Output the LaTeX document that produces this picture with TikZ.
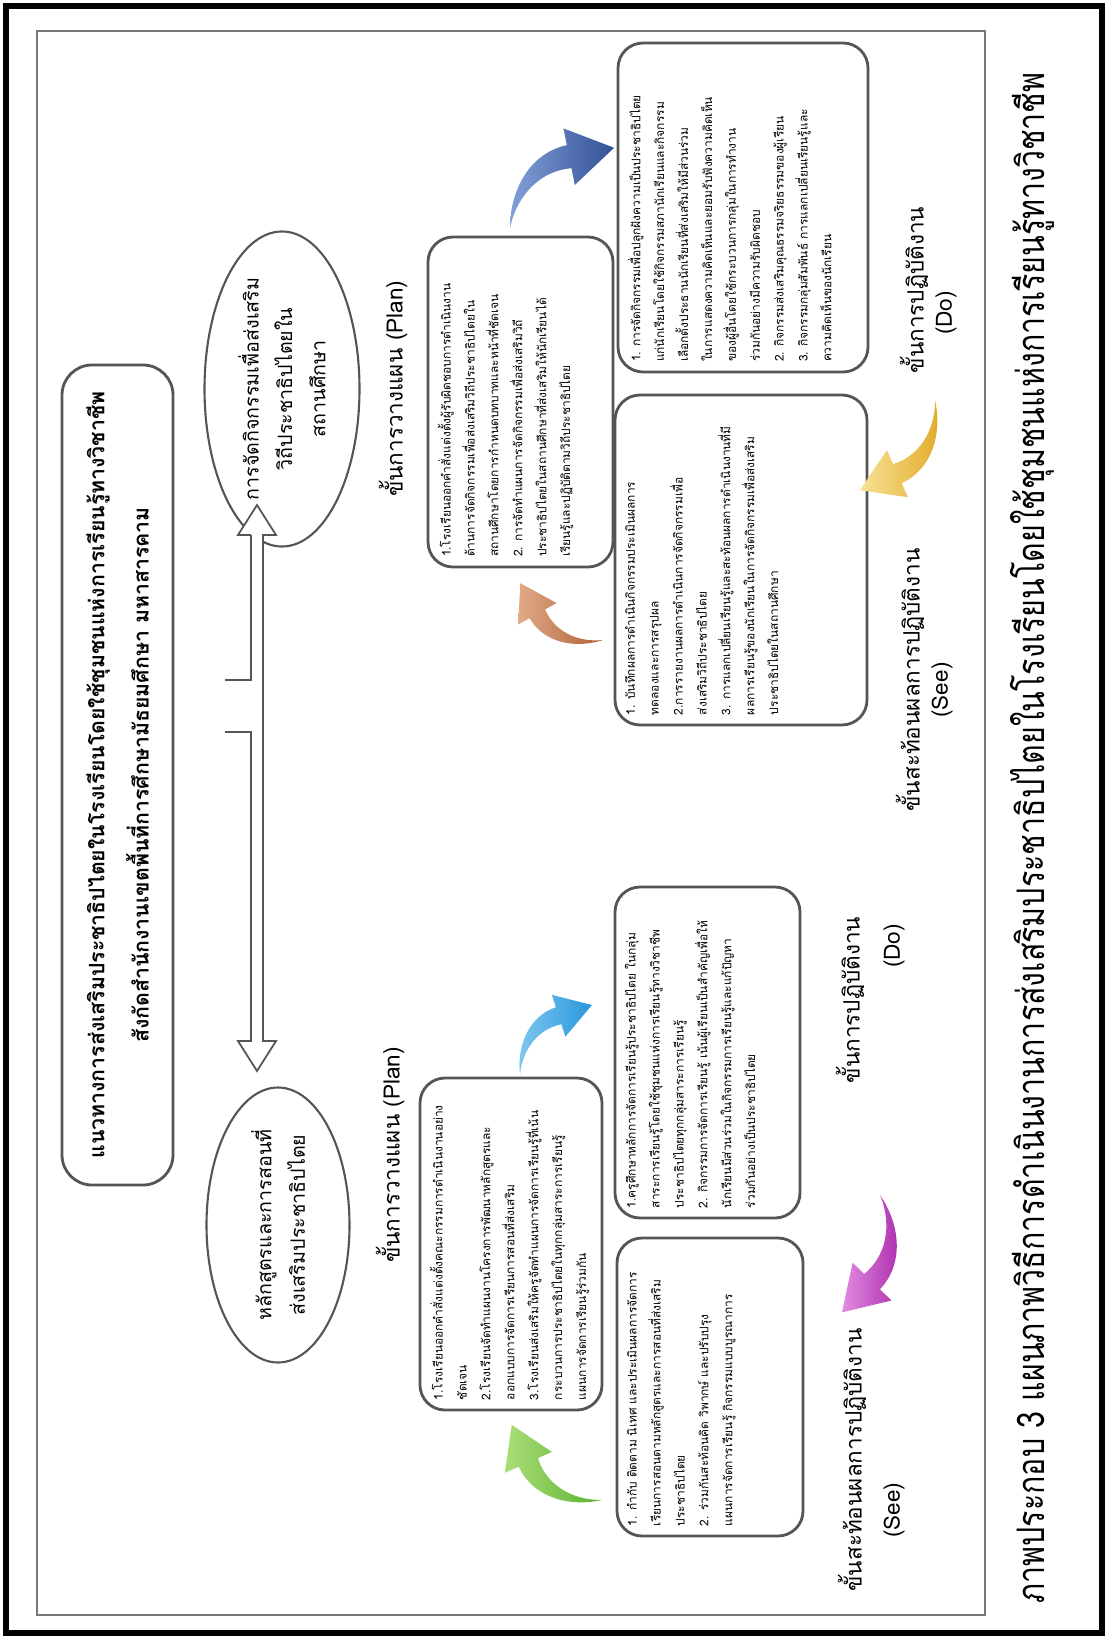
\documentclass[tikz,border=0pt]{standalone}
\usepackage{fontspec}
\setmainfont{Loma}[Script=Thai]
\newfontfamily\capfont[Script=Thai,FakeStretch=0.8]{Loma}
\usetikzlibrary{shapes.geometric}

\definecolor{boxline}{RGB}{85,85,85}
\definecolor{framegray}{RGB}{120,120,120}
\definecolor{arrgreen}{RGB}{92,178,48}
\definecolor{arrgreenL}{RGB}{170,222,120}
\definecolor{arrsky}{RGB}{40,150,220}
\definecolor{arrskyL}{RGB}{130,200,240}
\definecolor{arrmag}{RGB}{170,40,170}
\definecolor{arrmagL}{RGB}{225,140,225}
\definecolor{arrbrown}{RGB}{175,95,55}
\definecolor{arrbrownL}{RGB}{225,170,135}
\definecolor{arrnavy}{RGB}{50,80,150}
\definecolor{arrnavyL}{RGB}{130,160,215}
\definecolor{arrgold}{RGB}{225,170,40}
\definecolor{arrgoldL}{RGB}{248,225,150}

\newcommand{\smalltxt}{\fontsize{3.4}{6.8}\selectfont}
\newcommand{\boxtext}[3]{\begin{minipage}[c][#2][t]{#1}\raggedright #3\end{minipage}}

\begin{document}
\begin{tikzpicture}[x=0.1mm,y=-0.1mm,
    stepbox/.style={draw=boxline,line width=0.8pt,rounded corners=2.5mm,rotate=90,inner sep=1mm,font=\smalltxt},
    oval/.style={draw=boxline,line width=0.6pt,ellipse,rotate=90,align=center,inner sep=0pt,font=\fontsize{5.6}{9.5}\selectfont},
    stage/.style={rotate=90,align=center,font=\fontsize{6.4}{9}\selectfont},
    swoosh/.pic={
      \path[pic actions] (0,0) .. controls (20,-22) and (50,-32) .. (74.6,-17.7)
        -- (81.3,-28.9) -- (100,8) -- (58.7,8.9) -- (65.4,-2.3)
        .. controls (48,-16) and (22,-16) .. (0,0) -- cycle;
    }]
    \useasboundingbox (0,0) rectangle (1108,1639);

    % frames
    \draw[line width=0.6mm] (6,6) rectangle (1102,1633);
    \draw[framegray,line width=0.3pt] (37,31) rectangle (985,1615);

    % title
    \node[draw=boxline,line width=0.8pt,rounded corners=3mm,rotate=90,inner sep=1mm,minimum width=82mm,minimum height=11.1mm,align=center,font=\fontsize{6.05}{12.6}\selectfont\bfseries] (title) at (117.5,775)
      {แนวทางการส่งเสริมประชาธิปไตยในโรงเรียนโดยใช้ชุมชนแห่งการเรียนรู้ทางวิชาชีพ\\
       สังกัดสำนักงานเขตพื้นที่การศึกษามัธยมศึกษา มหาสารคาม};

    % two main parts
    \node[oval,minimum width=24.8mm,minimum height=15.5mm] (ovR) at (282,389)
      {การจัดกิจกรรมเพื่อส่งเสริม\\วิถีประชาธิปไตยใน\\สถานศึกษา};
    \node[oval,minimum width=27.5mm,minimum height=14.3mm] (ovL) at (278,1225)
      {หลักสูตรและการสอนที่\\ส่งเสริมประชาธิปไตย};

    % hollow double arrow
    \draw[boxline,line width=0.5pt,fill=white] (251,535) -- (251,680) -- (225,680)
      (225,732) -- (251,732) -- (251,1041) -- (238,1041) -- (257,1071) -- (276,1041)
      -- (263,1041) -- (263,535) -- (276,535) -- (257,505) -- (238,535) -- (251,535);

    % stage labels
    \node[stage] (lpR) at (393,389) {ขั้นการวางแผน (Plan)};
    \node[stage] (lpL) at (390,1155) {ขั้นการวางแผน (Plan)};
    \node[stage] (ldR) at (914,290) {ขั้นการปฏิบัติงาน};
    \node[stage] (ldRe) at (946,313) {(Do)};
    \node[stage] (lsR) at (910,680) {ขั้นสะท้อนผลการปฏิบัติงาน};
    \node[stage] (lsRe) at (942,690) {(See)};
    \node[stage] (ldL) at (850,1000) {ขั้นการปฏิบัติงาน};
    \node[stage] (ldLe) at (894,946) {(Do)};
    \node[stage] (lsL) at (852,1460) {ขั้นสะท้อนผลการปฏิบัติงาน};
    \node[stage] (lsLe) at (894,1510) {(See)};

    % boxes, right side (activities)
    \node[stepbox] (planR) at (520.5,402) {\boxtext{31mm}{16.5mm}{%
      1.โรงเรียนออกคำสั่งแต่งตั้งผู้รับผิดชอบการดำเนินงาน\\
      ด้านการจัดกิจกรรมเพื่อส่งเสริมวิถีประชาธิปไตยใน\\
      สถานศึกษาโดยการกำหนดบทบาทและหน้าที่ชัดเจน\\
      2. การจัดทำแผนการจัดกิจกรรมเพื่อส่งเสริมวิถี\\
      ประชาธิปไตยในสถานศึกษาที่ส่งเสริมให้นักเรียนได้\\
      เรียนรู้และปฏิบัติตามวิถีประชาธิปไตย}};
    \node[stepbox] (doR) at (743,207.5) {\boxtext{30.9mm}{23mm}{%
      1. การจัดกิจกรรมเพื่อปลูกฝังความเป็นประชาธิปไตย\\
      แก่นักเรียนโดยใช้กิจกรรมสภานักเรียนและกิจกรรม\\
      เลือกตั้งประธานนักเรียนที่ส่งเสริมให้มีส่วนร่วม\\
      ในการแสดงความคิดเห็นและยอมรับฟังความคิดเห็น\\
      ของผู้อื่นโดยใช้กระบวนการกลุ่มในการทำงาน\\
      ร่วมกันอย่างมีความรับผิดชอบ\\
      2. กิจกรรมส่งเสริมคุณธรรมจริยธรรมของผู้เรียน\\
      3. กิจกรรมกลุ่มสัมพันธ์ การแลกเปลี่ยนเรียนรู้และ\\
      ความคิดเห็นของนักเรียน}};
    \node[stepbox] (seeR) at (741,560) {\boxtext{31mm}{23.2mm}{%
      1. บันทึกผลการดำเนินกิจกรรมประเมินผลการ\\
      ทดลองและการสรุปผล\\
      2.การรายงานผลการดำเนินการจัดกิจกรรมเพื่อ\\
      ส่งเสริมวิถีประชาธิปไตย\\
      3. การแลกเปลี่ยนเรียนรู้และสะท้อนผลการดำเนินงานที่มี\\
      ผลการเรียนรู้ของนักเรียนในการจัดกิจกรรมเพื่อส่งเสริม\\
      ประชาธิปไตยในสถานศึกษา}};

    % boxes, left side (curriculum)
    \node[stepbox] (planL) at (511,1244) {\boxtext{31.2mm}{16.2mm}{%
      1.โรงเรียนออกคำสั่งแต่งตั้งคณะกรรมการดำเนินงานอย่าง\\
      ชัดเจน\\
      2.โรงเรียนจัดทำแผนงานโครงการพัฒนาหลักสูตรและ\\
      ออกแบบการจัดการเรียนการสอนที่ส่งเสริม\\
      3.โรงเรียนส่งเสริมให้ครูจัดทำแผนการจัดการเรียนรู้ที่เน้น\\
      กระบวนการประชาธิปไตยในทุกกลุ่มสาระการเรียนรู้\\
      แผนการจัดการเรียนรู้ร่วมกัน}};
    \node[stepbox] (doL) at (707.5,1052.5) {\boxtext{31.1mm}{16.5mm}{%
      1.ครูศึกษาหลักการจัดการเรียนรู้ประชาธิปไตย ในกลุ่ม\\
      สาระการเรียนรู้โดยใช้ชุมชนแห่งการเรียนรู้ทางวิชาชีพ\\
      ประชาธิปไตยทุกกลุ่มสาระการเรียนรู้\\
      2. กิจกรรมการจัดการเรียนรู้ เน้นผู้เรียนเป็นสำคัญเพื่อให้\\
      นักเรียนมีส่วนร่วมในกิจกรรมการเรียนรู้และแก้ปัญหา\\
      ร่วมกันอย่างเป็นประชาธิปไตย}};
    \node[stepbox] (seeL) at (710,1387) {\boxtext{27.8mm}{16.6mm}{%
      1. กำกับ ติดตาม นิเทศ และประเมินผลการจัดการ\\
      เรียนการสอนตามหลักสูตรและการสอนที่ส่งเสริม\\
      ประชาธิปไตย\\
      2. ร่วมกันสะท้อนคิด วิพากษ์ และปรับปรุง\\
      แผนการจัดการเรียนรู้ กิจกรรมแบบบูรณาการ}};

    % cycle arrows
    \pic[left color=arrgreenL,right color=arrgreen,rotate=144.8,scale=1.17] at (602,1500) {swoosh};
    \pic[left color=arrskyL,right color=arrsky,rotate=48.8,scale=1.0] at (520,1075) {swoosh};
    \pic[left color=arrmagL,right color=arrmag,rotate=-103.4,scale=1.23] at (880,1195) {swoosh};
    \pic[left color=arrbrownL,right color=arrbrown,rotate=150.1,scale=1.0] at (603,640) {swoosh};
    \pic[left color=arrnavyL,right color=arrnavy,rotate=42.2,scale=1.31] at (510,228) {swoosh};
    \pic[left color=arrgoldL,right color=arrgold,rotate=-125.2,scale=1.17] at (935,400) {swoosh};

    % caption
    \node[rotate=90,font=\capfont\fontsize{10.8}{13}\selectfont] (cap) at (1032,838)
      {ภาพประกอบ 3 แผนภาพวิธีการดำเนินงานการส่งเสริมประชาธิปไตยในโรงเรียนโดยใช้ชุมชนแห่งการเรียนรู้ทางวิชาชีพ};
\end{tikzpicture}
\end{document}
